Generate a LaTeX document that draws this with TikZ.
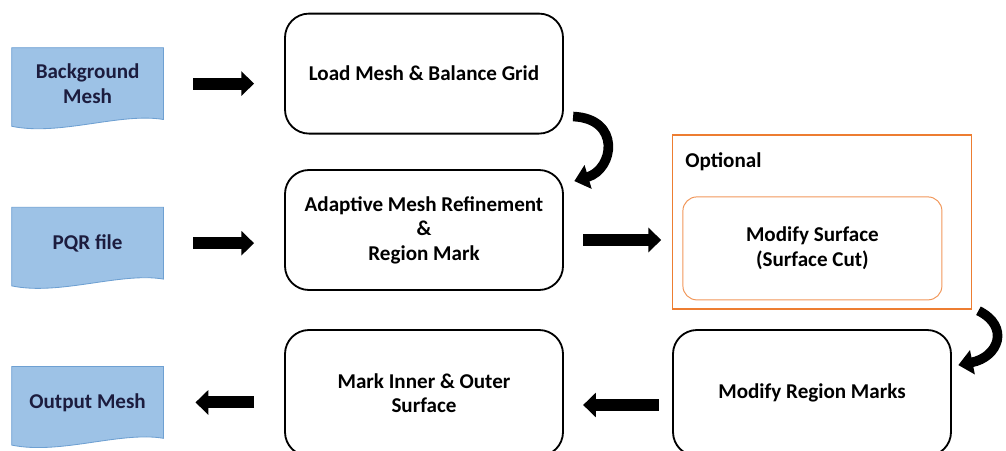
\documentclass[tikz,border=0pt]{standalone}
\usepackage{fontspec}
\setmainfont{Carlito}
\usepackage{xcolor}
\definecolor{docblue}{RGB}{157,194,230}
\definecolor{docedge}{RGB}{110,160,210}
\definecolor{docink}{RGB}{28,28,62}
\definecolor{optorange}{RGB}{237,125,49}
\usepackage{tikz}
\usetikzlibrary{arrows.meta, positioning, calc, backgrounds}

% document shape drawn behind a named node
\newcommand{\docoutline}[1]{%
  \begin{scope}[on background layer]
    \fill[docblue] (#1.north west) -- (#1.north east) -- (#1.south east)
      .. controls ($(#1.south east)+(-1.08,0.18)$) and ($(#1.south west)+(1.2,-0.42)$) ..
      ($(#1.south west)+(0,-0.17)$) -- cycle;
    \draw[docedge, line width=0.6pt] (#1.north west) -- (#1.north east) -- (#1.south east)
      .. controls ($(#1.south east)+(-1.08,0.18)$) and ($(#1.south west)+(1.2,-0.42)$) ..
      ($(#1.south west)+(0,-0.17)$) -- cycle;
  \end{scope}}

\tikzset{
  labelfont/.style={font=\bfseries\fontsize{15}{17.5}\selectfont},
  meshdoc/.style={labelfont, docink, minimum width=3.78cm, minimum height=1.78cm, align=center, inner sep=0pt},
  stepbox/.style={labelfont, draw, line width=1.3pt, rounded corners=0.6cm, minimum width=6.95cm, minimum height=3cm, align=center},
  blockarrow/.style={line width=0.3cm, -{Triangle[length=0.32cm, width=0.6cm]}},
  bendarrow/.style={line width=0.24cm, -{Triangle[length=0.36cm, width=0.6cm]}}
}

\begin{document}
\begin{tikzpicture}
  \useasboundingbox (0,0) rectangle (25.15,11.25);

  % --- Input / output documents ---
  \node[meshdoc] (bg)  at (2.19,9.16) {Background\\Mesh};
  \node[meshdoc] (pqr) at (2.19,5.17) {PQR file};
  \node[meshdoc] (out) at (2.19,1.19) {Output Mesh};
  \docoutline{bg}
  \docoutline{pqr}
  \docoutline{out}

  % --- Processing steps ---
  \node[stepbox] (load) at (10.6,9.41) {Load Mesh \& Balance Grid};
  \node[stepbox] (adapt) at (10.6,5.5) {Adaptive Mesh Refinement\\\&\\Region Mark};
  \node[stepbox, minimum height=3.15cm] (mark) at (10.6,1.425) {Mark Inner \& Outer\\Surface};
  \node[stepbox, minimum height=3.15cm] (region) at (20.3,1.425) {Modify Region Marks};

  % --- Optional group ---
  \node[draw=optorange, line width=0.75pt, minimum width=7.475cm, minimum height=4.35cm] (opt) at (20.56,5.7) {};
  \node[labelfont, anchor=north west] (opttitle) at ($(opt.north west)+(0.2,-0.32)$) {Optional};
  \node[labelfont, draw=optorange!80, line width=0.7pt, rounded corners=0.35cm,
        minimum width=6.475cm, minimum height=2.575cm, align=center] (surf) at (20.31,5.04) {Modify Surface\\(Surface Cut)};

  % --- Straight arrows ---
  \draw[blockarrow, shorten <=0.75cm, shorten >=0.75cm] (bg.east) -- (bg.east -| load.west);
  \draw[blockarrow, shorten <=0.75cm, shorten >=0.75cm] (pqr.east) -- (pqr.east -| adapt.west);
  \draw[blockarrow, shorten <=0.48cm, shorten >=0.28cm] ([yshift=-0.25cm]adapt.east) -- ([yshift=-0.25cm]adapt.east -| opt.west);
  \draw[blockarrow, shorten <=0.33cm, shorten >=0.48cm] ([yshift=-0.3cm]region.west) -- ([yshift=-0.3cm]region.west -| mark.east);
  \draw[blockarrow, shorten <=0.75cm, shorten >=0.8cm] (out.east -| mark.west) -- (out.east);

  % --- Curved arrows ---
  \draw[bendarrow] ($(load.south east)+(0.23,0.45)$)
    .. controls +(1.2,-0.05) and +(1.0,0.3) .. ($(adapt.north east)+(0.26,-0.3)$);
  \draw[bendarrow] ($(opt.south east)+(0.15,-0.03)$)
    .. controls +(0.8,-0.4) and +(1.0,0.2) .. ($(region.north east)+(0.16,-0.9)$);
\end{tikzpicture}
\end{document}
